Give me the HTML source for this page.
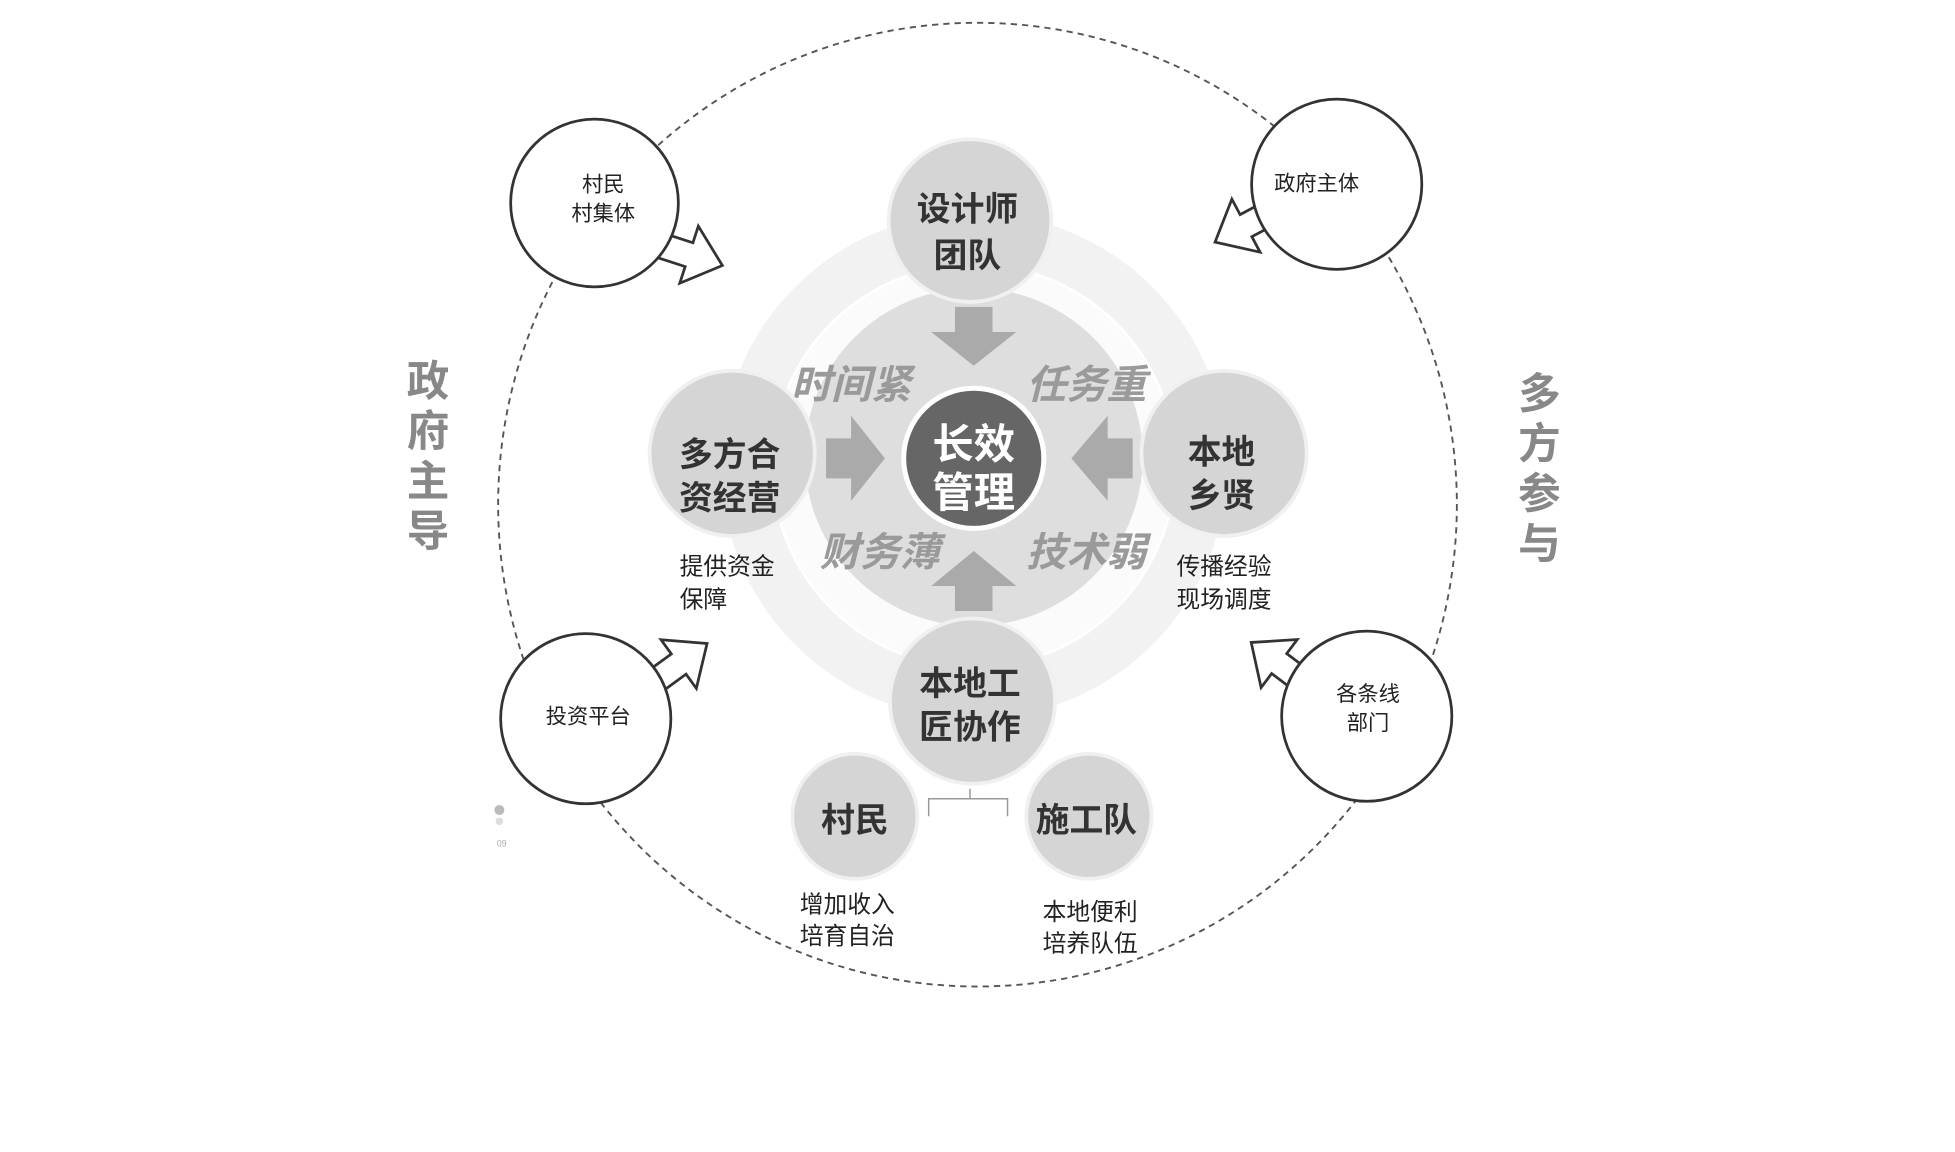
<!DOCTYPE html>
<html><head><meta charset="utf-8"><style>
html,body{margin:0;padding:0;background:#fff;}
svg{display:block;}
text{font-family:"Liberation Sans","Noto Sans CJK SC",sans-serif;}
</style></head><body>
<svg width="1955" height="1152" viewBox="0 0 1562 920" xmlns="http://www.w3.org/2000/svg">
<defs>
<g id="arr"><polygon points="0,-10 30,-10 30,-24 58,0 30,24 30,10 0,10" fill="#fff" stroke="#333" stroke-width="2.2" stroke-linejoin="miter"/></g>
</defs>
<rect width="1562" height="920" fill="#fff"/>
<ellipse cx="781" cy="403" rx="383" ry="385" fill="none" stroke="#555" stroke-width="1.5" stroke-dasharray="5,4"/>
<circle cx="778" cy="372" r="182" fill="none" stroke="#f2f2f2" stroke-width="40"/>
<circle cx="778" cy="372" r="160" fill="#fbfbfb"/>
<circle cx="778" cy="365" r="135" fill="#dedede"/>
<g fill="#aaa">
<polygon points="763,245 793,245 793,265 812,265 778,292 744,265 763,265"/>
<polygon points="763,488 793,488 793,468 812,468 778,440 744,468 763,468"/>
<polygon points="660,350 680,350 680,332 707,366 680,400 680,382 660,382"/>
<polygon points="905,350 885,350 885,332 856,366 885,400 885,382 905,382"/>
</g>
<g font-size="32" font-weight="bold" font-style="italic" fill="#9a9a9a" text-anchor="middle">
<text x="680" y="318">时间紧</text>
<text x="868" y="318">任务重</text>
<text x="703" y="452">财务薄</text>
<text x="868" y="452">技术弱</text>
</g>
<circle cx="778" cy="366" r="58" fill="#fff"/>
<circle cx="778" cy="366" r="54" fill="#666"/>
<g font-size="33" font-weight="bold" fill="#fff" text-anchor="middle">
<text x="778" y="366">长效</text>
<text x="778" y="405">管理</text>
</g>
<g fill="#d5d5d5" stroke="#f0f0f0" stroke-width="3">
<circle cx="775" cy="176" r="65"/>
<circle cx="585" cy="362" r="66"/>
<circle cx="978" cy="362" r="66"/>
<circle cx="777" cy="560" r="66"/>
<circle cx="683" cy="652" r="50"/>
<circle cx="870" cy="652" r="50"/>
</g>
<g font-size="27" font-weight="bold" fill="#333" text-anchor="middle">
<text x="773" y="176">设计师</text>
<text x="773" y="213">团队</text>
<text x="583" y="372">多方合</text>
<text x="583" y="407">资经营</text>
<text x="976" y="370">本地</text>
<text x="976" y="405">乡贤</text>
<text x="775" y="555">本地工</text>
<text x="775" y="590">匠协作</text>
<text x="683" y="664">村民</text>
<text x="868" y="664">施工队</text>
</g>
<path d="M742,652 V638 H805 V652 M775,638 V630" fill="none" stroke="#999" stroke-width="1.2"/>
<g font-size="19" fill="#222">
<text x="543" y="459">提供资金</text>
<text x="543" y="485">保障</text>
<text x="940" y="459">传播经验</text>
<text x="940" y="485">现场调度</text>
<text x="639" y="729">增加收入</text>
<text x="639" y="754">培育自治</text>
<text x="833" y="735">本地便利</text>
<text x="833" y="760">培养队伍</text>
</g>
<use href="#arr" transform="translate(522,194) rotate(18)"/>
<circle cx="475" cy="162" r="67" fill="#fff" stroke="#333" stroke-width="2.2"/>
<use href="#arr" transform="translate(1022,166) rotate(152)"/>
<circle cx="1068" cy="147" r="68" fill="#fff" stroke="#333" stroke-width="2.2"/>
<use href="#arr" transform="translate(518,548) rotate(-36)"/>
<circle cx="468" cy="574" r="68" fill="#fff" stroke="#333" stroke-width="2.2"/>
<use href="#arr" transform="translate(1046,548) rotate(217)"/>
<circle cx="1092" cy="572" r="68" fill="#fff" stroke="#333" stroke-width="2.2"/>
<g font-size="17" fill="#222" text-anchor="middle">
<text x="482" y="153">村民</text>
<text x="482" y="176">村集体</text>
<text x="1052" y="152">政府主体</text>
<text x="470" y="578">投资平台</text>
<text x="1093" y="560">各条线</text>
<text x="1093" y="583">部门</text>
</g>
<g font-size="34" font-weight="bold" fill="#888" text-anchor="middle">
<text x="342" y="316">政</text>
<text x="342" y="356">府</text>
<text x="342" y="396">主</text>
<text x="342" y="436">导</text>
<text x="1230" y="326">多</text>
<text x="1230" y="366">方</text>
<text x="1230" y="406">参</text>
<text x="1230" y="446">与</text>
</g>
<circle cx="399" cy="647" r="4" fill="#bbb"/>
<circle cx="399" cy="656" r="3" fill="#ddd"/>
<text x="397" y="676" font-size="7" fill="#aaa">09</text>
</svg>
</body></html>
